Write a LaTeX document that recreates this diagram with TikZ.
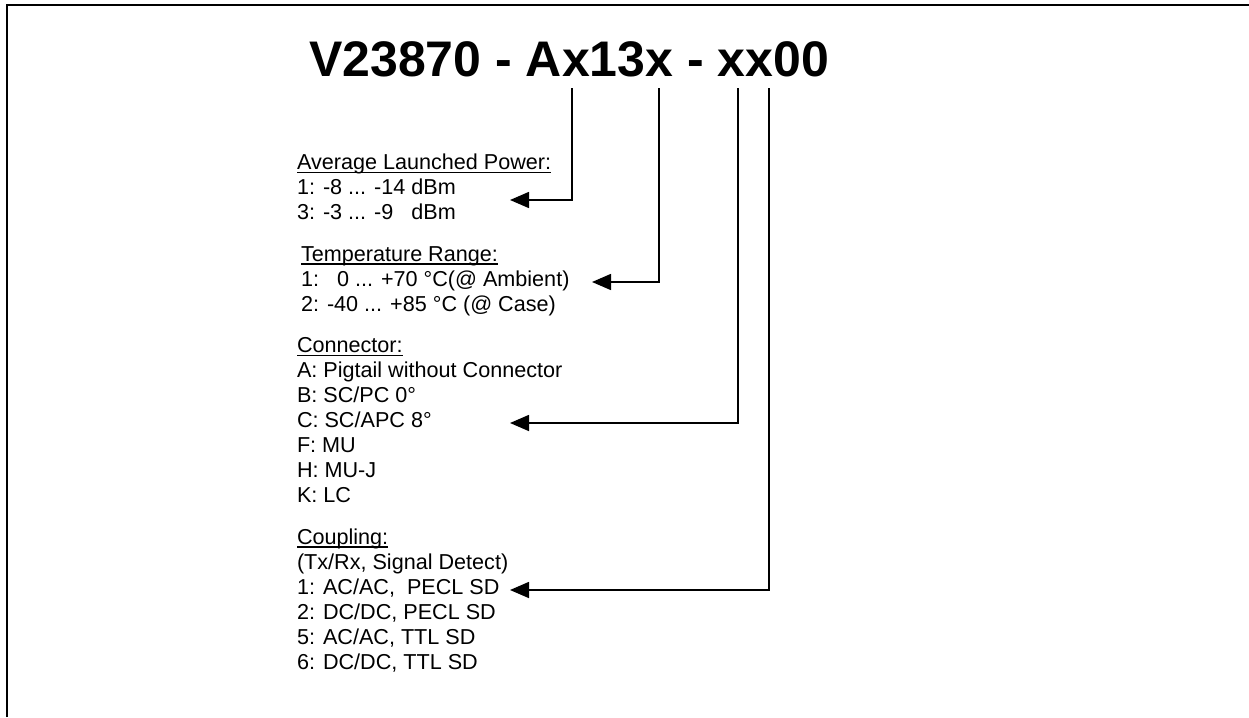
\documentclass[tikz,border=0pt]{standalone}
\usepackage{fontspec}
\setmainfont{Liberation Sans}
\usetikzlibrary{arrows.meta}
\newcommand{\bodyt}[1]{{\fontsize{21.6}{25}\selectfont #1}}
\newcommand{\titlet}[1]{{\fontsize{50}{56}\selectfont\bfseries #1}}
\begin{document}
\begin{tikzpicture}[x=1pt,y=-1pt,
  txt/.style={anchor=base west,inner sep=0pt,outer sep=0pt},
  ul/.style={line width=1.4pt},
  frame/.style={line width=1.8pt},
  conn/.style={line width=1.6pt,-{Triangle[length=19pt,width=16pt]}}]
\useasboundingbox (0,0) rectangle (1249,717);
\draw[frame] (6.7,717) -- (6.7,5.2) -- (1249,5.2);
\node[txt,anchor=base east] (title) at (829,77) {\titlet{V23870 - Ax13x - xx00}};
% section 1
\node[txt] (h1) at (297,169.5) {\bodyt{Average Launched Power:}};
\node[txt] (p1) at (297,194.5) {\bodyt{1: -8 ... -14 dBm}};
\node[txt] (p3) at (297,219.5) {\bodyt{3: -3 ... -9\ \ \ dBm}};
% section 2
\node[txt] (h2) at (301,261) {\bodyt{Temperature Range:}};
\node[txt] (t1) at (301,286) {\bodyt{1:\ \ \ 0 ... +70 °C(@ Ambient)}};
\node[txt] (t2) at (301,311) {\bodyt{2: -40 ... +85 °C (@ Case)}};
% section 3
\node[txt] (h3) at (297,352.5) {\bodyt{Connector:}};
\node[txt] (cA) at (297,377.5) {\bodyt{A: Pigtail without Connector}};
\node[txt] (cB) at (297,402.5) {\bodyt{B: SC/PC 0°}};
\node[txt] (cC) at (297,427.5) {\bodyt{C: SC/APC 8°}};
\node[txt] (cF) at (297,452.5) {\bodyt{F: MU}};
\node[txt] (cH) at (297,477.5) {\bodyt{H: MU-J}};
\node[txt] (cK) at (297,502.5) {\bodyt{K: LC}};
% section 4
\node[txt] (h4) at (297,544) {\bodyt{Coupling:}};
\node[txt] (k0) at (297,569) {\bodyt{(Tx/Rx, Signal Detect)}};
\node[txt] (k1) at (297,594) {\bodyt{1: AC/AC,\ \ PECL SD}};
\node[txt] (k2) at (297,619) {\bodyt{2: DC/DC, PECL SD}};
\node[txt] (k5) at (297,644) {\bodyt{5: AC/AC, TTL SD}};
\node[txt] (k6) at (297,669) {\bodyt{6: DC/DC, TTL SD}};
% underlines
\foreach \h in {h1,h2,h3,h4}
  \draw[ul] ([yshift=-3pt]\h.base west) -- ([yshift=-3pt]\h.base east);
% connectors
\coordinate (v1) at (572,88);
\coordinate (v2) at (659,88);
\coordinate (v3) at (738,88);
\coordinate (v4) at (769,88);
\coordinate (a1) at (510,200);
\coordinate (a2) at (592,282);
\coordinate (a3) at (510,423);
\coordinate (a4) at (510,590);
\draw[conn] (v1) |- (a1);
\draw[conn] (v2) |- (a2);
\draw[conn] (v3) |- (a3);
\draw[conn] (v4) |- (a4);
\end{tikzpicture}
\end{document}
